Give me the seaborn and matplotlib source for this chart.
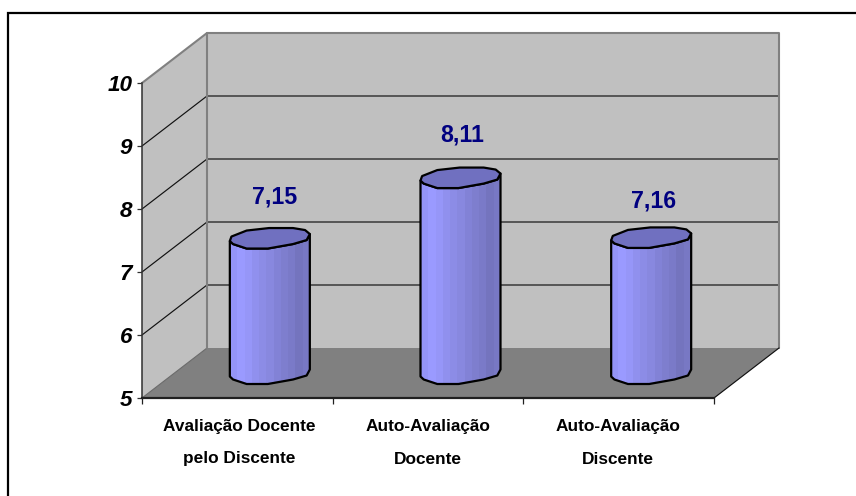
import numpy as np
import matplotlib
matplotlib.use("Agg")
import matplotlib.pyplot as plt
from matplotlib.lines import Line2D
from matplotlib.patches import Polygon, PathPatch
from matplotlib.path import Path
from matplotlib.colors import ListedColormap
from matplotlib.transforms import Affine2D
import seaborn as sns

categories = ["Avaliação Docente\npelo Discente",
              "Auto-Avaliação\nDocente",
              "Auto-Avaliação\nDiscente"]
scores = [7.15, 8.11, 7.16]
y_ticks = [5, 6, 7, 8, 9, 10]

W, H = 856, 496
PLOT_LEFT, PLOT_RIGHT = 142, 714
PLOT_BOTTOM, PLOT_TOP = 398, 83
DEPTH_X, DEPTH_Y = 65, 50          # pixel shift of the back wall
PX_X = (PLOT_RIGHT - PLOT_LEFT) / 3
PX_Y = (PLOT_BOTTOM - PLOT_TOP) / 5
DX, DY = DEPTH_X / PX_X, DEPTH_Y / PX_Y

WALL, FLOOR, EDGE = "#C0C0C0", "#808080", "#808080"
NAVY = "#000080"

# Rim of a bar's cap: (fraction of half width, pixels above centre)
rim_back = [(-1.0, -3.5), (-0.96, 1), (-0.58, 7), (-0.02, 9.5), (0.58, 9.5),
            (0.88, 7.5), (1.0, 3.5)]
rim_front = [(1.0, 3.5), (0.92, -2.5), (0.58, -6.5), (-0.05, -11), (-0.58, -11),
             (-0.92, -6.5), (-1.0, -3.5)]
# Strips of shading across a bar, left to right
shades = ["#9494F8", "#9A9AFF", "#9696F8", "#9090EE", "#8C8CE6", "#8888DF",
          "#8282D6", "#7E7ECE", "#7A7AC8", "#7474BE", "#7878C4"]

sns.set_theme(style="white")
plt.rcParams["font.family"] = ["Liberation Sans", "DejaVu Sans"]

fig = plt.figure(figsize=(W / 100, H / 100), dpi=100, facecolor="white")
ax = fig.add_axes([PLOT_LEFT / W, 1 - PLOT_BOTTOM / H,
                   (PLOT_RIGHT - PLOT_LEFT) / W, (PLOT_BOTTOM - PLOT_TOP) / H])
ax.patch.set_alpha(0)

sns.barplot(x=list(range(3)), y=scores, width=80 / PX_X, color="#9090EE",
            saturation=1, ax=ax, zorder=4)
ax.set_xlim(-0.5, 2.5)
ax.set_ylim(5, 10)

x0, x1 = -0.5, 2.5
# Walls and floor, built in data units from the depth shift
ax.add_patch(Polygon([(x0 + DX, 5 + DY), (x1 + DX, 5 + DY), (x1 + DX, 10 + DY), (x0 + DX, 10 + DY)],
                     fc=WALL, ec="none", clip_on=False, zorder=1))
ax.add_patch(Polygon([(x0, 5), (x0 + DX, 5 + DY), (x0 + DX, 10 + DY), (x0, 10)],
                     fc=WALL, ec="none", clip_on=False, zorder=1))
ax.add_patch(Polygon([(x0, 5), (x1, 5), (x1 + DX, 5 + DY), (x0 + DX, 5 + DY)],
                     fc=FLOOR, ec="none", clip_on=False, zorder=1))

for t in y_ticks[1:-1]:
    ax.plot([x0, x0 + DX, x1 + DX], [t, t + DY, t + DY], color="#111111", lw=0.85,
            clip_on=False, zorder=2, solid_joinstyle="miter")
ax.plot([x0, x0 + DX, x1 + DX, x1 + DX], [10, 10 + DY, 10 + DY, 5 + DY], color=EDGE, lw=1.5,
        clip_on=False, zorder=2)
ax.plot([x0 + DX, x0 + DX], [5 + DY, 10 + DY], color=EDGE, lw=1.5, clip_on=False, zorder=2.5)
ax.plot([x0, x0 + DX], [5, 5 + DY], color="#6A6A6A", lw=0.8, clip_on=False, zorder=2)
ax.plot([x1, x1 + DX], [5, 5 + DY], color="#111111", lw=0.85, clip_on=False, zorder=2)

# Bars stand at mid depth
half_depth = (DX / 2, DY / 2)
cmap = ListedColormap(shades)
half = 40 / PX_X

for i, (bar, value) in enumerate(zip(ax.patches, scores)):
    cx = bar.get_x() + bar.get_width() / 2 + half_depth[0]
    top = bar.get_height() + half_depth[1]
    base = 5 + half_depth[1]
    back = [(cx + u * half, top + v / PX_Y) for u, v in rim_back]
    front_top = [(cx + u * half, top + v / PX_Y) for u, v in rim_front]
    front_base = [(cx + u * half, base + v / PX_Y) for u, v in rim_front]
    body = [(cx - half, top - 3.5 / PX_Y)] + front_base[::-1] + [(cx + half, top + 3.5 / PX_Y)] + front_top[1:]
    body_path = Path(body + [body[0]], closed=True)
    bar.set_clip_path(body_path, ax.transData)
    bar.set_clip_on(True)
    img = ax.imshow(np.arange(len(shades))[None, :], cmap=cmap, aspect="auto",
                    extent=(cx - half, cx + half, base - 12 / PX_Y, top + 12 / PX_Y),
                    interpolation="nearest", zorder=5)
    img.set_clip_path(PathPatch(body_path, transform=ax.transData))
    ax.add_patch(Polygon(body, closed=True, fc="none", ec="black", lw=1.6, clip_on=False,
                         zorder=6, joinstyle="round"))
    ax.add_patch(Polygon(back + front_top[1:], closed=True, fc="#7070C0", ec="black", lw=1.6,
                         clip_on=False, zorder=7, joinstyle="round"))

ax.set_xlim(-0.5, 2.5)
ax.set_ylim(5, 10)

# Value labels above the bars
nudges = [(5, 40.5), (2, 42.5), (2, 36)]
for i, value in enumerate(scores):
    ax.annotate(f"{value:.2f}".replace(".", ","),
                xy=(i + half_depth[0], value + half_depth[1]),
                xytext=(nudges[i][0] * 0.72, nudges[i][1] * 0.72), textcoords="offset points",
                ha="center", va="center", fontsize=16.7, fontweight="bold", color=NAVY,
                annotation_clip=False, zorder=8)

# Axes furniture
sns.despine(ax=ax, top=True, right=True)
ax.spines["left"].set(color="#303030", linewidth=1.1, zorder=9)
ax.spines["bottom"].set(color="#202020", linewidth=1.6, zorder=9)
ax.set_yticks(y_ticks)
ax.set_yticklabels([str(t) for t in y_ticks], fontsize=16.2, fontweight="bold", style="italic",
                   color="black")
ax.set_xticks([-0.5, 0.5, 1.5, 2.5])
ax.set_xticklabels([])
ax.tick_params(axis="y", left=True, length=3.5, width=0.9, color="#303030", pad=3.5)
ax.tick_params(axis="x", bottom=True, length=4.5, width=0.9, color="#202020")

label_nudge = [1.5, 0, -1]
for i, label in enumerate(categories):
    first, second = label.split("\n")
    for line, off in ((first, -28), (second, -61)):
        ax.annotate(line, xy=(i, 5), xytext=(label_nudge[i] * 0.72, off * 0.72),
                    textcoords="offset points", ha="center", va="center", fontsize=12.4,
                    fontweight="bold", color="black", annotation_clip=False)

# Outer frame, open on the right and at the bottom
fig.add_artist(Line2D([1, 8 / W, 8 / W], [1 - 13 / H, 1 - 13 / H, 0], color="black", lw=1.6,
                      solid_joinstyle="miter"))

fig.savefig("out.png", dpi=100, facecolor="white")
